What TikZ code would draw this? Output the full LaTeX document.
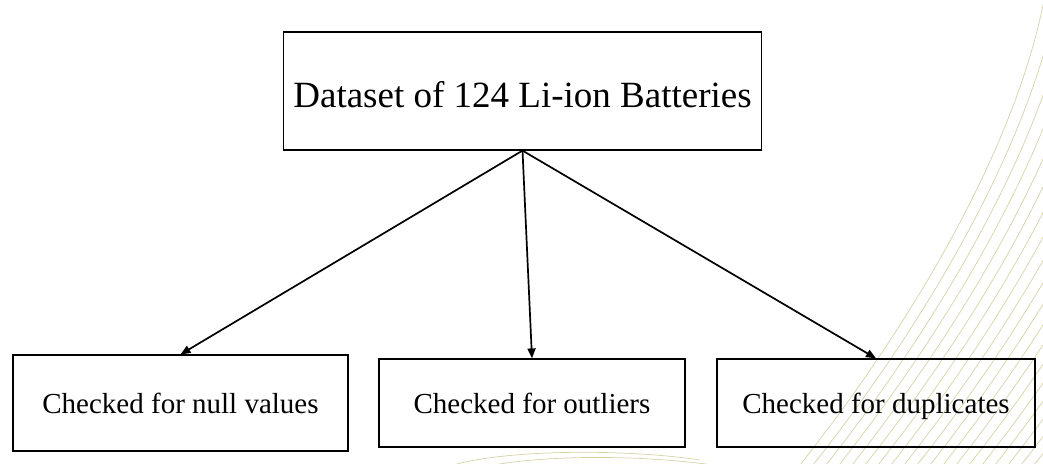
\documentclass[tikz,border=0pt]{standalone}
\usepackage{fontspec}
\setmainfont{Liberation Serif}
\usetikzlibrary{arrows.meta}
\definecolor{decoline}{RGB}{214,210,168}
\tikzset{
  % fixed text height/depth keep every baseline at the same offset below the centre
  mainbox/.style={draw=black, line width=1.2pt, inner sep=0pt, align=center,
    minimum width=478pt, minimum height=118pt, font=\fontsize{37}{44}\selectfont,
    text height=40pt, text depth=8pt},
  checkbox/.style={draw=black, line width=1.2pt, inner sep=0pt, align=center,
    minimum height=88pt, font=\fontsize{29}{34}\selectfont,
    text height=28pt, text depth=8pt},
  link/.style={line width=1.7pt, -{Triangle[length=10pt,width=8pt]}},
  deco/.style={decoline, line width=0.7pt}
}
\begin{document}
\begin{tikzpicture}[x=1pt,y=-1pt]
  \useasboundingbox (0,0) rectangle (1043,463);
  % decorative swept lines in the lower right corner
  \begin{scope}
    \clip (0,0) rectangle (1043,463);
    \foreach \i in {0,...,20} {
      \draw[deco, xshift=13*\i pt]
        (1045,-5) .. controls (1020,130) and (930,300) .. (800,465);
    }
    \draw[deco] (450,466) .. controls (500,450) and (620,448) .. (700,460);
    \draw[deco] (470,470) .. controls (530,454) and (640,454) .. (720,466);
  \end{scope}

  \node[mainbox] (data) at (522.5,91) {Dataset of 124 Li-ion Batteries};
  \node[checkbox, minimum width=335pt, minimum height=96pt] (null) at (180.5,403) {Checked for null values};
  \node[checkbox, minimum width=306pt] (outl) at (532,403) {Checked for outliers};
  \node[checkbox, minimum width=318pt] (dupl) at (876,403) {Checked for duplicates};

  \draw[link] (data.south) -- (null.north);
  \draw[link] (data.south) -- (outl.north);
  \draw[link] (data.south) -- (dupl.north);
\end{tikzpicture}
\end{document}
